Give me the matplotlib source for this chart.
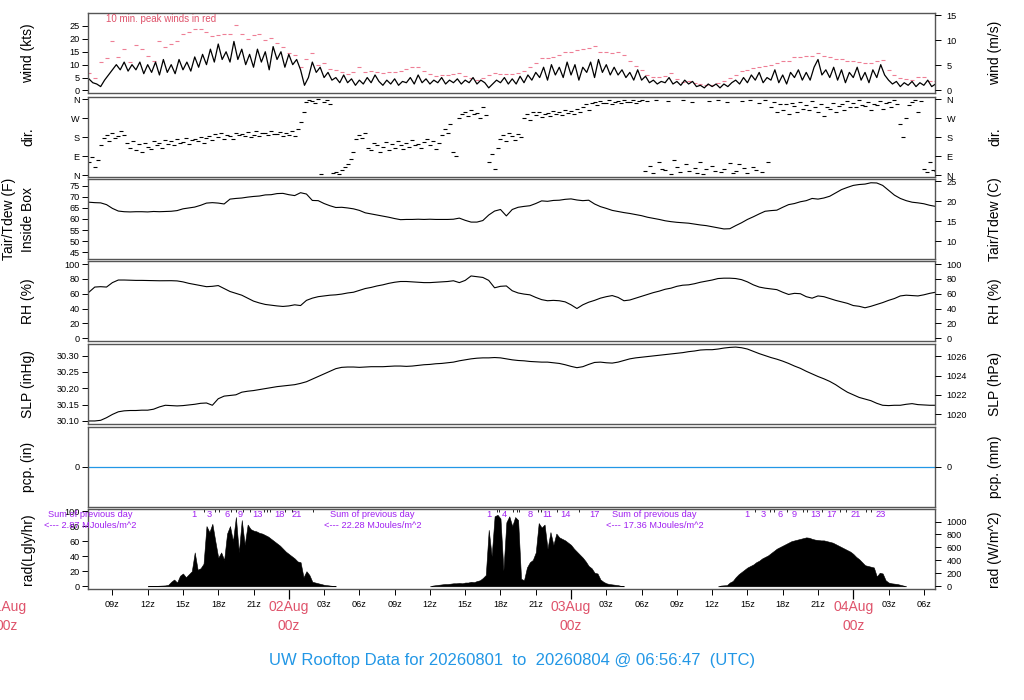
import numpy as np
import matplotlib.pyplot as plt

plt.rcParams['font.family'] = ['Liberation Sans', 'DejaVu Sans']

RED = '#DF536B'
PINK = '#EE7F95'
BLUE = '#2297E6'
PURPLE = '#A020F0'

# time in hours since 01Aug 00z
T0, T1 = 6.95, 78.95

# wind speed (kts), every 20 min from t=7
wind_start, wind_step = 7.0, 1/3
wind = [4.5, 3, 2.5, 1.5, 4, 6, 8, 10, 8, 11, 7.5, 10, 8, 11, 6.5, 10, 7, 11,
        6, 12, 7, 10, 6.5, 12, 8, 11, 7.5, 13, 9, 14, 10, 16, 11, 18, 12, 15,
        11, 19, 12, 16, 10, 14, 9, 16, 11, 15, 8, 17, 12, 15, 9, 14, 10, 12,
        8, 2, 5, 11, 7, 9, 5, 7, 4, 5, 3, 6, 3, 4.5, 2, 4, 2.5, 5,
        3, 6, 3.5, 2, 4, 2.5, 4.5, 2, 3.5, 3, 5, 2.5, 6, 3, 4.5, 2.5, 4, 3,
        5, 2.5, 4, 3, 4.5, 2.5, 4, 3, 5, 2.5, 4, 3, 1, 2.5, 4, 3, 5, 2.5,
        4.5, 2.5, 5.5, 3, 6, 4, 7, 5, 9, 4, 10, 6, 9, 5, 11, 6, 10, 4,
        9, 7, 11, 5, 12, 7, 10, 6, 9, 6, 8, 5, 7, 4, 8, 4, 5.5, 3,
        4, 2.5, 3.5, 3, 5, 2.5, 3.5, 2, 4, 2.5, 3.5, 1.5, 2, 1, 2.5, 1.5, 2.5, 1,
        2.5, 1.5, 3, 4, 2.5, 5, 3, 6, 4, 7, 3, 5, 4, 8, 3, 6, 2.5, 7,
        5, 8, 4, 7, 4, 9, 12, 6, 8, 5, 9, 4, 8, 3, 7, 5, 9, 4,
        7, 3, 8, 5, 10, 6, 4, 2.5, 3.5, 1.5, 3, 2, 3.5, 1.5, 3, 2, 4, 1.5,
        2.5]

# 10 min peak winds (kts), every 30 min from t=7
gust_start, gust_step = 7.0, 0.5
gust = [6.9, 5, 11, 12.4, 19, 13, 16, 11, 17.5, 16, 13.3, 11.5,
        19, 17, 18, 19.3, 22, 22.8, 24, 24, 22.5, 21, 21.5, 21.8,
        22, 25.4, 22, 20, 21.5, 21.8, 19.5, 20.2, 18.5, 17, 14.4, 13.7,
        9.2, 12, 14.6, 9.8, 10.5, 8.5, 7.9, 7.3, 6.3, 7, 9.2, 7.3,
        7.5, 7.3, 6.6, 7.3, 7, 7.5, 8.3, 9.2, 9, 7.5, 6.3, 5.7,
        5.9, 6, 6.3, 6.6, 5.6, 5, 4, 5, 6, 6.6, 6.3, 6.4,
        6.3, 6.6, 7.5, 9.2, 10.5, 12.7, 12.7, 13, 13.7, 15, 15, 15.7,
        16, 16.3, 17.4, 15, 15, 14.5, 15, 13.7, 11.4, 9.5, 7.9, 6,
        5.3, 5.3, 5.5, 6.6, 4.5, 3.4, 3.6, 3, 2.5, 2.1, 2.3, 2.7,
        3.5, 4.7, 6, 7.6, 8, 8.6, 9, 9.5, 10, 10.5, 11.4, 11.4,
        13, 13.1, 13.3, 13.5, 14.4, 13.3, 13, 12, 12, 11.4, 11.3, 11.2,
        10.8, 10.5, 11.5, 11.8, 7.9, 6, 5, 4.5, 4, 5.3, 5.3, 3.6,
        3.6]

# wind direction (deg), every 15 min from t=7
dir_start, dir_step = 7.0, 0.25
wdir = [60, 85, 40, 70, 140, 175, 190, 160, 200, 175, 185, 210, 190, 150, 130, 160,
        120, 145, 110, 150, 135, 125, 160, 140, 150, 130, 165, 145, 160, 140, 170, 150,
        155, 175, 145, 165, 170, 160, 180, 150, 175, 185, 165, 195, 180, 200, 170, 190,
        185, 170, 200, 190, 195, 185, 205, 180, 190, 210, 185, 200, 200, 190, 210, 195,
        195, 205, 185, 200, 190, 210, 185, 220, 250, 300, 345, 355, 350, 340, 360, 5,
        345, 355, 335, 10, 15, 5, 25, 40, 50, 75, 110, 170, 190, 175, 200, 130,
        120, 150, 140, 110, 135, 155, 120, 145, 130, 160, 140, 125, 150, 135, 165, 140,
        145, 130, 155, 170, 140, 160, 125, 150, 190, 220, 200, 240, 110, 90, 270, 290,
        300, 280, 310, 290, 295, 270, 320, 285, 60, 100, 30, 130, 170, 190, 160, 200,
        185, 165, 195, 180, 270, 290, 260, 300, 285, 300, 275, 290, 295, 280, 305, 290,
        300, 285, 310, 295, 305, 290, 315, 300, 320, 335, 310, 340, 345, 330, 350, 340,
        340, 355, 335, 345, 350, 340, 355, 345, 345, 355, 340, 350, 355, 20, 350, 45,
        10, 355, 60, 30, 25, 350, 5, 70, 40, 15, 355, 50, 20, 345, 35, 10,
        60, 5, 30, 350, 45, 20, 355, 15, 30, 345, 55, 10, 20, 50, 350, 35,
        10, 355, 40, 25, 340, 15, 355, 60, 320, 345, 300, 335, 310, 335, 290, 340,
        325, 300, 345, 315, 330, 310, 350, 320, 300, 335, 280, 320, 315, 340, 300, 325,
        335, 310, 350, 320, 340, 320, 355, 330, 325, 345, 310, 335, 330, 350, 315, 340,
        345, 320, 355, 335, 240, 180, 270, 330, 345, 355, 300, 350, 30, 15, 60, 25,
        20]

# 30 min series from t=7
half_start, half_step = 7.0, 0.5
tair = [67.6, 67.4, 67.3, 66.5, 64.8, 63.6, 63.3, 63.2, 63.3, 63.3, 63.2, 63.4,
        63.3, 63.4, 63.5, 63.8, 64.6, 65.0, 65.4, 66.2, 67.2, 67.4, 67.2, 66.8,
        69.0, 69.3, 69.5, 69.9, 70.2, 70.4, 70.9, 71.0, 71.5, 71.6, 71.0, 70.6,
        71.9, 71.3, 68.4, 68.3, 67.0, 66.0, 65.2, 65.3, 65.0, 64.6, 63.9, 62.8,
        62.3, 61.8, 61.3, 60.8, 60.2, 59.7, 59.8, 59.8, 59.9, 59.8, 59.9, 59.8,
        59.8, 59.8, 59.9, 60.4, 59.4, 58.6, 58.6, 59.3, 61.8, 63.6, 64.3, 61.4,
        64.3, 65.3, 65.7, 66.0, 67.0, 68.2, 68.0, 68.4, 68.5, 68.9, 69.1, 68.6,
        68.3, 68.5, 66.8, 65.6, 64.8, 63.9, 63.4, 62.9, 62.5, 62.0, 61.5, 60.8,
        60.3, 59.8, 59.2, 58.8, 58.5, 58.3, 58.1, 57.7, 57.3, 57.0, 56.5, 56.0,
        55.5, 55.6, 57.0, 58.3, 59.8, 61.0, 62.3, 63.5, 63.8, 64.0, 65.3, 66.5,
        67.0, 67.8, 68.3, 69.3, 69.0, 69.5, 70.3, 71.8, 73.3, 74.3, 75.2, 75.6,
        75.8, 76.4, 76.3, 75.2, 73.0, 70.8, 69.3, 68.3, 67.6, 67.3, 66.9, 66.2,
        65.7]

rh = [62, 69, 69.5, 69, 75, 78.5, 78.5, 78.2, 78, 78, 77.8, 77.6,
      77.5, 77.5, 77.6, 77.3, 76, 74, 72.5, 71, 69.5, 70, 71, 67,
      63, 60.5, 58, 54, 50, 47.5, 45.5, 44.5, 43.5, 42.8, 43.5, 45,
      44, 51, 54, 56, 57, 58, 58.5, 59.5, 61, 62, 64.5, 67,
      68.5, 70.5, 72, 74, 75.5, 76.5, 76.5, 76, 75.5, 75, 75, 75.5,
      76, 76.5, 77.5, 75, 78, 84, 83, 82, 78, 68, 70, 70.5,
      64, 61, 59.5, 58.5, 55, 52, 50.5, 51, 50.5, 49, 45, 40,
      45, 48.5, 51, 54, 56, 57.5, 55, 50.5, 51.5, 54, 56.5, 59,
      61.5, 63.5, 66, 67.5, 70, 71.5, 72, 73.5, 75.5, 77, 78.5, 80.5,
      81, 81, 80.5, 79, 76, 72, 69, 67.5, 66.5, 65.5, 62, 59,
      60.5, 60, 56, 54, 57, 56, 53.5, 51, 49, 47, 44, 43,
      41, 43, 45.5, 48, 51, 53.5, 57, 58, 57.5, 57, 58.5, 60.5,
      62]

slp = [30.100, 30.100, 30.102, 30.110, 30.120, 30.128, 30.131, 30.132, 30.132, 30.133, 30.133, 30.136,
       30.143, 30.148, 30.147, 30.146, 30.147, 30.149, 30.151, 30.154, 30.155, 30.148, 30.168, 30.176,
       30.178, 30.180, 30.188, 30.191, 30.193, 30.196, 30.199, 30.202, 30.205, 30.207, 30.209, 30.211,
       30.215, 30.220, 30.228, 30.236, 30.244, 30.252, 30.260, 30.264, 30.265, 30.265, 30.264, 30.265,
       30.266, 30.266, 30.266, 30.267, 30.268, 30.268, 30.267, 30.268, 30.270, 30.272, 30.273, 30.275,
       30.276, 30.278, 30.280, 30.284, 30.287, 30.290, 30.292, 30.293, 30.293, 30.294, 30.293, 30.290,
       30.287, 30.285, 30.284, 30.282, 30.281, 30.280, 30.280, 30.278, 30.276, 30.272, 30.267, 30.263,
       30.266, 30.273, 30.279, 30.280, 30.278, 30.277, 30.280, 30.285, 30.290, 30.293, 30.295, 30.297,
       30.299, 30.301, 30.303, 30.305, 30.307, 30.309, 30.312, 30.314, 30.317, 30.318, 30.318, 30.320,
       30.323, 30.325, 30.326, 30.324, 30.320, 30.313, 30.306, 30.300, 30.294, 30.289, 30.283, 30.276,
       30.268, 30.261, 30.252, 30.244, 30.236, 30.229, 30.221, 30.211, 30.199, 30.188, 30.180, 30.172,
       30.167, 30.162, 30.154, 30.148, 30.147, 30.148, 30.148, 30.151, 30.153, 30.150, 30.149, 30.148,
       30.148]

# solar radiation (Langley/hr), every 15 min during daylight
rad_step = 0.25
rad_starts = [12.0, 36.0, 60.5]
rad_day1 = [0, 0.3, 0.5, 0.6, 0.8, 1, 1.2, 2, 6, 9, 5, 14, 17, 12, 16, 20,
            45, 22, 24, 30, 80, 72, 83, 60, 38, 45, 35, 70, 80, 60, 92, 45,
            88, 55, 82, 76, 74, 73, 71, 70, 68, 66, 63, 60, 57, 54, 50, 46,
            43, 40, 37, 33, 32, 12, 20, 15, 6, 5, 4, 3, 2, 1.5, 1, 0.5, 0]
rad_day2 = [0, 1, 1.5, 2, 2.5, 3, 3, 3.5, 4, 4, 4.5, 4, 5, 5, 6, 5.5,
            7, 8, 11, 15, 75, 40, 93, 95, 90, 21, 85, 93, 80, 92, 88, 10,
            8, 25, 32, 35, 45, 84, 78, 82, 50, 72, 55, 70, 65, 63, 61, 58,
            55, 50, 46, 42, 38, 33, 27, 24, 18, 17, 9, 6, 4, 3, 2.5, 2,
            1.5, 0.5, 0]
rad_day3 = [0, 1, 1.3, 1.5, 5, 7, 12, 16, 19, 22, 25, 27, 29, 32, 34, 37,
            39, 41, 44, 47, 50, 52, 54, 56, 58, 60, 61, 62, 63, 64, 65, 64.5,
            63, 62, 61.5, 61, 61, 60, 59, 58, 56, 54, 52, 50, 48, 46, 43, 39,
            36, 32, 28, 27, 26, 25, 13, 18, 17, 8, 5, 4, 3.5, 3, 2, 1, 0]
rad_sums = ['2.87', '22.28', '17.36']
rad_sum_times = [7.1, 31.1, 55.1]

# hour markers along the top of the radiation panel
mark_times = [15.91, 17.22, 18.75, 19.83, 21.30, 23.17, 24.71,
              41.05, 42.32, 44.51, 45.93, 47.49, 49.96,
              62.98, 64.34, 65.79, 66.98, 68.77, 70.13, 72.17, 74.30]
mark_labels = ['1', '3', '6', '9', '13', '18', '21',
               '1', '4', '8', '11', '14', '17',
               '1', '3', '6', '9', '13', '17', '21', '23']
mark_ticks = [16.77, 17.70, 18.04, 19.12, 19.49, 20.11, 20.68, 21.87, 22.15, 22.44,
              23.66, 24.31, 26.02, 41.68, 41.90, 43.09, 43.38, 43.57, 45.22, 45.42,
              46.83, 48.71, 63.66, 64.94, 65.28, 66.38, 67.74, 68.09, 69.36, 70.89,
              71.40, 73.11, 73.53]

day_hours = [0, 24, 48, 72]
day_names = ['01Aug', '02Aug', '03Aug', '04Aug']

W, H = 1024, 700
fig = plt.figure(figsize=(W/100, H/100), dpi=100)
left, right = 88.3, 935.0
tops = [13.3, 96.7, 179.0, 261.3, 344.3, 426.7, 509.3]
ph = 80.0
TS = 6.6


def make_ax(top, ylim):
    ax = fig.add_axes([left/W, 1 - (top + ph)/H, (right - left)/W, ph/H])
    ax.set_xlim(T0, T1)
    ax.set_ylim(*ylim)
    for s in ax.spines.values():
        s.set_color('#555555')
        s.set_linewidth(1.0)
    ax.tick_params(axis='y', labelsize=TS, length=4.3, width=0.7, pad=1.8)
    ax.tick_params(axis='x', bottom=False, labelbottom=False)
    return ax


def right_axis(ax, ticks, labels):
    ax2 = ax.twinx()
    ax2.set_ylim(ax.get_ylim())
    ax2.set_yticks(ticks)
    ax2.set_yticklabels(labels)
    ax2.tick_params(axis='y', labelsize=TS, length=4.3, width=0.7, pad=4)
    for s in ax2.spines.values():
        s.set_visible(False)
    return ax2


def side_labels(top, ltxt, rtxt, lx=28):
    yc = 1 - (top + ph/2)/H
    fig.text(lx/W, yc, ltxt, rotation=90, ha='center', va='center', fontsize=10)
    fig.text(995/W, yc, rtxt, rotation=90, ha='center', va='center', fontsize=10)


# wind
ax = make_ax(tops[0], (-1.1, 29.9))
tw = wind_start + wind_step*np.arange(len(wind))
tg = gust_start + gust_step*np.arange(len(gust))
ax.plot(tg, gust, ls='none', marker='_', ms=3, mew=0.8, color=PINK)
ax.plot(tw, wind, color='black', lw=0.9)
ax.set_yticks([0, 5, 10, 15, 20, 25])
right_axis(ax, [v/0.5144 for v in [0, 5, 10, 15]], ['0', '5', '10', '15'])
ax.text(0.021, 0.93, '10 min. peak winds in red', transform=ax.transAxes,
        color=RED, fontsize=7, ha='left', va='center')
side_labels(tops[0], 'wind (kts)', 'wind (m/s)')

# direction
ax = make_ax(tops[1], (-8, 371))
td = dir_start + dir_step*np.arange(len(wdir))
ax.plot(td, wdir, ls='none', marker='_', ms=3, mew=0.8, color='black')
dticks = [0, 90, 180, 270, 360]
dlabs = ['N', 'E', 'S', 'W', 'N']
ax.set_yticks(dticks)
ax.set_yticklabels(dlabs)
right_axis(ax, dticks, dlabs)
side_labels(tops[1], 'dir.', 'dir.')

# temperature
th = half_start + half_step*np.arange(len(tair))
ax = make_ax(tops[2], (41.9, 78.1))
ax.plot(th, tair, color='black', lw=0.8)
ax.set_yticks([45, 50, 55, 60, 65, 70, 75])
right_axis(ax, [c*1.8 + 32 for c in [10, 15, 20, 25]], ['10', '15', '20', '25'])
yc = 1 - (tops[2] + ph/2)/H
fig.text(9/W, yc, 'Tair/Tdew (F)', rotation=90, ha='center', va='center', fontsize=10)
side_labels(tops[2], 'Inside Box', 'Tair/Tdew (C)')

# relative humidity
ax = make_ax(tops[3], (-4.3, 103.8))
ax.plot(th, rh, color='black', lw=0.8)
ax.set_yticks([0, 20, 40, 60, 80, 100])
right_axis(ax, [0, 20, 40, 60, 80, 100], ['0', '20', '40', '60', '80', '100'])
side_labels(tops[3], 'RH (%)', 'RH (%)')

# sea level pressure
ax = make_ax(tops[4], (30.0898, 30.3345))
ax.plot(th, slp, color='black', lw=0.8)
lp = [30.10, 30.15, 30.20, 30.25, 30.30]
ax.set_yticks(lp)
ax.set_yticklabels(['%.2f' % v for v in lp])
hp = [1020, 1022, 1024, 1026]
right_axis(ax, [v/33.8639 for v in hp], [str(v) for v in hp])
side_labels(tops[4], 'SLP (inHg)', 'SLP (hPa)')

# precipitation
ax = make_ax(tops[5], (-1, 1))
ax.axhline(0, color=BLUE, lw=0.9)
ax.set_yticks([0])
right_axis(ax, [0], ['0'])
side_labels(tops[5], 'pcp. (in)', 'pcp. (mm)')

# radiation
ax = make_ax(tops[6], (-4, 102.3))
for st, vals in zip(rad_starts, [rad_day1, rad_day2, rad_day3]):
    tr = st + rad_step*np.arange(len(vals))
    ax.fill_between(tr, 0, vals, color='black', lw=0.4)
ax.set_yticks([0, 20, 40, 60, 80, 100])
wm = [0, 200, 400, 600, 800, 1000]
right_axis(ax, [v/11.622 for v in wm], [str(v) for v in wm])
side_labels(tops[6], 'rad(Lgly/hr)', 'rad (W/m^2)')
ax.vlines(mark_ticks, 0.965, 1.0, transform=ax.get_xaxis_transform(), color='black', lw=0.6)
for tm, lab in zip(mark_times, mark_labels):
    ax.text(tm, 0.93, lab, transform=ax.get_xaxis_transform(), color=PURPLE,
            fontsize=6.7, ha='center', va='center')
for tm, s in zip(rad_sum_times, rad_sums):
    ax.text(tm, 0.93, 'Sum of previous day', transform=ax.get_xaxis_transform(),
            color=PURPLE, fontsize=6.7, ha='center', va='center', clip_on=False)
    ax.text(tm, 0.80, '<--- %s MJoules/m^2' % s, transform=ax.get_xaxis_transform(),
            color=PURPLE, fontsize=6.7, ha='center', va='center', clip_on=False)

# time axis
xt = [h for h in range(9, 79, 3) if h % 24 != 0]
ax.set_xticks(xt)
ax.set_xticklabels(['%02dz' % (h % 24) for h in xt])
ax.set_xticks([h for h in day_hours if h >= T0], minor=True)
ax.tick_params(axis='x', which='major', bottom=True, labelbottom=True,
               labelsize=TS, length=4, width=0.7, pad=3.5)
ax.tick_params(axis='x', which='minor', bottom=True, length=7.5, width=0.9)
for h, name in zip(day_hours, day_names):
    ax.annotate(name, xy=(h, 0), xycoords=('data', 'axes fraction'),
                xytext=(0, -17.7), textcoords='offset pixels', ha='center',
                va='center', color=RED, fontsize=10, annotation_clip=False)
    ax.annotate('00z', xy=(h, 0), xycoords=('data', 'axes fraction'),
                xytext=(0, -36.7), textcoords='offset pixels', ha='center',
                va='center', color=RED, fontsize=10, annotation_clip=False)

fig.text(0.5, 1 - 660/H, 'UW Rooftop Data for 20260801  to  20260804 @ 06:56:47  (UTC)',
         ha='center', va='center', color=BLUE, fontsize=12)

fig.savefig('out.png', dpi=100)
